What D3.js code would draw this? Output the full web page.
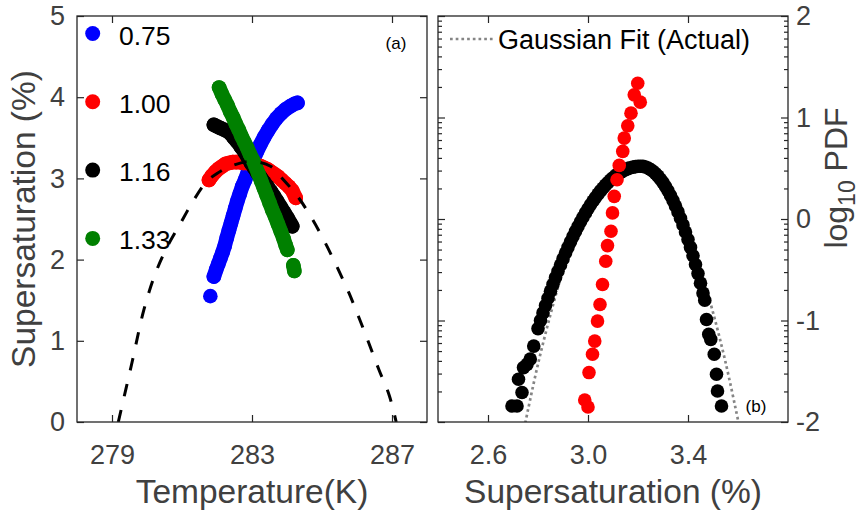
<!DOCTYPE html>
<html lang="en">
<head>
  <meta charset="UTF-8">
  <title>Supersaturation</title>
  <script src="https://d3js.org/d3.v7.min.js"></script>
  <style>
    body { margin: 0; background: #fff; }
    text { font-family: "Liberation Sans", Arial, sans-serif; }
    .axis .domain { stroke: none; }
    .axis line { stroke: #262626; stroke-width: 1.2; }
    .axis text { fill: #404040; font-size: 27px; font-family: "Liberation Sans", Arial, sans-serif; }
  </style>
</head>
<body>
<svg id="chart" width="864" height="518"></svg>
<script>
  // ---- data ----
  const legendLabels = ["0.75", "1.00", "1.16", "1.33"];
  const seriesColors = ["blue", "red", "black", "green"];

  // panel (a): [temperature K, supersaturation %]
  const s075 = [[281.81,1.55],[281.91,1.79],[281.98,1.88],[282.04,1.95],[282.10,2.02],[282.16,2.09],[282.22,2.17],
    [282.28,2.27],[282.34,2.36],[282.40,2.45],[282.46,2.54],[282.52,2.63],[282.58,2.72],[282.65,2.81],[282.72,2.90],
    [282.80,2.98],[282.88,3.07],[282.96,3.15],[283.05,3.24],[283.14,3.33],[283.24,3.42],[283.35,3.51],[283.46,3.59],
    [283.58,3.67],[283.70,3.74],[283.83,3.80],[283.96,3.85],[284.10,3.89],[284.22,3.92],[284.30,3.93]];
  const s100 = [[281.77,2.98],[281.85,3.03],[281.95,3.08],[282.05,3.12],[282.15,3.15],[282.25,3.18],[282.35,3.19],
    [282.45,3.20],[282.55,3.20],[282.65,3.20],[282.75,3.19],[282.85,3.19],[282.95,3.18],[283.05,3.17],[283.15,3.16],
    [283.25,3.15],[283.35,3.13],[283.45,3.11],[283.55,3.08],[283.65,3.05],[283.75,3.02],[283.85,2.98],[283.95,2.94],
    [284.05,2.90],[284.15,2.85],[284.25,2.76]];
  const s116 = [[281.91,3.66],[282.00,3.64],[282.10,3.62],[282.20,3.60],[282.30,3.58],[282.39,3.55],[282.48,3.50],
    [282.58,3.45],[282.68,3.39],[282.78,3.33],[282.88,3.26],[282.97,3.19],[283.06,3.13],[283.15,3.07],[283.25,3.01],
    [283.35,2.95],[283.44,2.90],[283.54,2.84],[283.63,2.78],[283.72,2.72],[283.82,2.65],[283.92,2.58],[284.02,2.51],
    [284.10,2.45],[284.15,2.41]];
  const s133 = [[282.06,4.12],[282.14,4.04],[282.22,3.97],[282.30,3.90],[282.38,3.82],[282.46,3.75],[282.54,3.67],
    [282.62,3.60],[282.70,3.52],[282.78,3.45],[282.86,3.38],[282.94,3.30],[283.02,3.23],[283.10,3.15],[283.18,3.06],
    [283.26,2.97],[283.34,2.88],[283.42,2.79],[283.50,2.70],[283.58,2.61],[283.66,2.53],[283.74,2.44],[283.82,2.35],
    [283.90,2.26],[283.96,2.18],[284.01,2.12],[284.18,1.93],[284.21,1.86]];
  const satCurve = [[279.18,0],[279.57,0.73],[279.91,1.38],[280.24,1.83],[280.58,2.16],[280.96,2.45],[281.29,2.70],
    [281.68,2.95],[282.00,3.06],[282.39,3.15],[282.97,3.21],[283.53,3.15],[283.82,3.02],[284.30,2.78],[284.72,2.50],
    [285.10,2.20],[285.44,1.90],[285.77,1.59],[286.06,1.28],[286.34,0.97],[286.63,0.64],[286.92,0.33],[287.12,0]];

  // panel (b): [supersaturation %, log10 PDF]
  const pdfRed = [[2.987,-1.783],[3.000,-1.852],[3.004,-1.513],[3.018,-1.333],[3.027,-1.203],[3.038,-1.006],
    [3.048,-0.842],[3.058,-0.645],[3.071,-0.416],[3.078,-0.262],[3.092,-0.121],[3.098,0.060],[3.105,0.223],
    [3.116,0.387],[3.125,0.528],[3.139,0.666],[3.145,0.797],[3.159,0.918],[3.172,1.043],[3.209,1.151],
    [3.185,1.223],[3.199,1.338]];
  const pdfBlack = [[2.696,-1.842],[2.716,-1.842],[2.736,-1.710],[2.722,-1.579],[2.742,-1.464],[2.756,-1.432],
    [2.769,-1.380],[2.783,-1.252],[2.800,-1.080],[2.810,-1.000],[2.820,-0.925],[2.830,-0.852],[2.840,-0.781],
    [2.850,-0.711],[2.860,-0.644],[2.870,-0.578],[2.880,-0.515],[2.890,-0.453],[2.900,-0.393],[2.910,-0.335],
    [2.920,-0.279],[2.930,-0.225],[2.940,-0.173],[2.950,-0.122],[2.960,-0.074],[2.970,-0.027],[2.980,0.017],
    [2.990,0.060],[3.000,0.101],[3.010,0.140],[3.020,0.177],[3.030,0.212],[3.040,0.245],[3.050,0.277],
    [3.060,0.306],[3.070,0.334],[3.080,0.359],[3.090,0.383],[3.100,0.405],[3.110,0.425],[3.120,0.443],
    [3.130,0.459],[3.140,0.473],[3.150,0.486],[3.160,0.496],[3.170,0.505],[3.180,0.511],[3.190,0.516],
    [3.200,0.519],[3.210,0.520],[3.220,0.518],[3.230,0.512],[3.240,0.502],[3.250,0.488],[3.260,0.470],
    [3.270,0.448],[3.280,0.422],[3.290,0.392],[3.300,0.358],[3.310,0.320],[3.320,0.278],[3.330,0.232],
    [3.340,0.182],[3.350,0.128],[3.360,0.070],[3.370,0.008],[3.380,-0.058],[3.390,-0.128],[3.400,-0.202],
    [3.410,-0.280],[3.420,-0.362],[3.430,-0.448],[3.440,-0.538],[3.450,-0.632],[3.460,-0.730],[3.467,-0.800],
    [3.474,-0.990],[3.483,-1.137],[3.491,-1.186],[3.505,-1.333],[3.514,-1.530],[3.518,-1.694],[3.534,-1.842]];
  const gaussFit = [[2.74,-2.12],[2.76,-1.88],[2.80,-1.43],[2.85,-0.94],[2.90,-0.51],[2.95,-0.16],[3.00,0.12],
    [3.05,0.34],[3.10,0.48],[3.15,0.55],[3.20,0.55],[3.25,0.48],[3.30,0.34],[3.35,0.13],[3.40,-0.15],
    [3.45,-0.50],[3.50,-0.92],[3.55,-1.41],[3.60,-1.98],[3.61,-2.10]];

  const tempTicks = [279, 283, 287];
  const satTicks = [0, 1, 2, 3, 4, 5];
  const ssTicks = [2.6, 3.0, 3.4];
  const logTicks = [-2, -1, 0, 1, 2];

  // ---- layout ----
  const svg = d3.select("svg#chart");
  const plotTop = 16, plotBottom = 422;
  const panelA = {left: 77, right: 427};
  const panelB = {left: 438, right: 788};
  const axisColor = "#262626";
  const labelColor = "#404040";
  const dotR = 7.3;

  const xA = d3.scaleLinear().domain([278, 288]).range([panelA.left, panelA.right]);
  const yA = d3.scaleLinear().domain([0, 5]).range([plotBottom, plotTop]);
  const xB = d3.scaleLinear().domain([2.4, 3.8]).range([panelB.left, panelB.right]);
  const yB = d3.scaleLinear().domain([-2, 2]).range([plotBottom, plotTop]);
  const pdfScale = d3.scaleLog().domain([1e-2, 1e2]).range([plotBottom, plotTop]);

  const defs = svg.append("defs");
  [["clipA", panelA], ["clipB", panelB]].forEach(([id, p]) => {
    defs.append("clipPath").attr("id", id)
        .append("rect")
        .attr("x", p.left).attr("y", plotTop)
        .attr("width", p.right - p.left).attr("height", plotBottom - plotTop);
  });

  // ---- panel (a) ----
  const gA = svg.append("g").attr("clip-path", "url(#clipA)");
  [s075, s100, s116, s133].forEach((series, i) => {
    // overlapping markers merge into a band: join neighbours that touch
    let pts = series.map(d => [xA(d[0]), yA(d[1])]);
    let runs = [[pts[0]]];
    for (let k = 1; k < pts.length; k++) {
      let dist = Math.hypot(pts[k][0] - pts[k - 1][0], pts[k][1] - pts[k - 1][1]);
      if (dist < 12) runs[runs.length - 1].push(pts[k]);
      else runs.push([pts[k]]);
    }
    gA.append("g").selectAll("path")
      .data(runs.filter(r => r.length > 1))
      .join("path")
      .attr("d", d3.line())
      .style("fill", "none")
      .style("stroke", seriesColors[i])
      .style("stroke-width", dotR * 2)
      .style("stroke-linecap", "round")
      .style("stroke-linejoin", "round");
    gA.append("g").selectAll("circle")
      .data(series)
      .join("circle")
      .attr("cx", d => xA(d[0]))
      .attr("cy", d => yA(d[1]))
      .attr("r", dotR)
      .style("fill", seriesColors[i]);
  });

  gA.append("path")
    .datum(satCurve)
    .attr("d", d3.line().x(d => xA(d[0])).y(d => yA(d[1])).curve(d3.curveCatmullRom))
    .style("fill", "none")
    .style("stroke", "black")
    .style("stroke-width", 3)
    .style("stroke-dasharray", "12.5,14");

  // axes (a)
  svg.append("g").attr("class", "axis")
     .attr("transform", `translate(0,${plotBottom})`)
     .call(d3.axisBottom(xA).tickValues(tempTicks).tickSize(-7).tickSizeOuter(0).tickPadding(23).tickFormat(d => String(d)));
  svg.append("g").attr("class", "axis")
     .attr("transform", `translate(0,${plotTop})`)
     .call(d3.axisTop(xA).tickValues(tempTicks).tickSize(-7).tickSizeOuter(0).tickFormat(""));
  svg.append("g").attr("class", "axis")
     .attr("transform", `translate(${panelA.left},0)`)
     .call(d3.axisLeft(yA).tickValues(satTicks).tickSize(-7).tickSizeOuter(0).tickPadding(12).tickFormat(d => String(d)));
  svg.append("g").attr("class", "axis")
     .attr("transform", `translate(${panelA.right},0)`)
     .call(d3.axisRight(yA).tickValues(satTicks).tickSize(-7).tickSizeOuter(0).tickFormat(""));

  // legend (a)
  legendLabels.forEach((lab, i) => {
    let ly = 33.5 + i * 68.3;
    svg.append("circle")
       .attr("cx", 92.7).attr("cy", ly).attr("r", 7.5)
       .style("fill", seriesColors[i]);
    svg.append("text")
       .attr("x", 119).attr("y", ly + 11)
       .style("font-size", "26.5px")
       .style("fill", "black")
       .text(lab);
  });

  svg.append("text")
     .attr("x", 396).attr("y", 49)
     .attr("text-anchor", "middle")
     .style("font-size", "17px")
     .text("(a)");

  // ---- panel (b) ----
  const gB = svg.append("g").attr("clip-path", "url(#clipB)");
  gB.append("path")
    .datum(gaussFit)
    .attr("d", d3.line().x(d => xB(d[0])).y(d => yB(d[1])).curve(d3.curveCatmullRom))
    .style("fill", "none")
    .style("stroke", "#858585")
    .style("stroke-width", 2.7)
    .style("stroke-dasharray", "2.7,3");

  gB.append("g").selectAll("circle")
    .data(pdfBlack)
    .join("circle")
    .attr("cx", d => xB(d[0]))
    .attr("cy", d => yB(d[1]))
    .attr("r", 6.8)
    .style("fill", "black");

  gB.append("g").selectAll("circle")
    .data(pdfRed)
    .join("circle")
    .attr("cx", d => xB(d[0]))
    .attr("cy", d => yB(d[1]))
    .attr("r", 6.8)
    .style("fill", "red");

  // axes (b): log-PDF minor ticks on both sides, log10 labels on the right
  let allLog = pdfScale.ticks();
  let majorLog = allLog.filter(v => Math.abs(Math.log10(v) - Math.round(Math.log10(v))) < 1e-9);
  let minorLog = allLog.filter(v => !majorLog.includes(v));

  svg.append("g").attr("class", "axis")
     .attr("transform", `translate(0,${plotBottom})`)
     .call(d3.axisBottom(xB).tickValues(ssTicks).tickSize(-7).tickSizeOuter(0).tickPadding(23).tickFormat(d3.format(".1f")));
  svg.append("g").attr("class", "axis")
     .attr("transform", `translate(0,${plotTop})`)
     .call(d3.axisTop(xB).tickValues(ssTicks).tickSize(-7).tickSizeOuter(0).tickFormat(""));
  [[d3.axisLeft, panelB.left], [d3.axisRight, panelB.right]].forEach(([ax, xpos]) => {
    svg.append("g").attr("class", "axis")
       .attr("transform", `translate(${xpos},0)`)
       .call(ax(pdfScale).tickValues(minorLog).tickSize(-4).tickSizeOuter(0).tickFormat(""));
    svg.append("g").attr("class", "axis")
       .attr("transform", `translate(${xpos},0)`)
       .call(ax(pdfScale).tickValues(majorLog).tickSize(-7).tickSizeOuter(0).tickFormat(""));
  });
  svg.append("g").attr("class", "axis")
     .attr("transform", `translate(${panelB.right},0)`)
     .call(d3.axisRight(yB).tickValues(logTicks).tickSize(0).tickSizeOuter(0).tickPadding(8).tickFormat(d => String(d)));

  // legend (b)
  svg.append("line")
     .attr("x1", 450).attr("x2", 494).attr("y1", 39).attr("y2", 39)
     .style("stroke", "#858585")
     .style("stroke-width", 2.7)
     .style("stroke-dasharray", "2.7,3");
  svg.append("text")
     .attr("x", 498).attr("y", 49)
     .style("font-size", "27px")
     .style("fill", "black")
     .text("Gaussian Fit (Actual)");

  svg.append("text")
     .attr("x", 756).attr("y", 412)
     .attr("text-anchor", "middle")
     .style("font-size", "17px")
     .text("(b)");

  // frames
  [panelA, panelB].forEach(p => {
    svg.append("rect")
       .attr("x", p.left).attr("y", plotTop)
       .attr("width", p.right - p.left).attr("height", plotBottom - plotTop)
       .style("fill", "none")
       .style("stroke", axisColor)
       .style("stroke-width", 1.3);
  });

  // axis titles
  svg.append("text")
     .attr("x", (panelA.left + panelA.right) / 2).attr("y", 503)
     .attr("text-anchor", "middle")
     .style("font-size", "33.5px").style("fill", labelColor)
     .text("Temperature(K)");
  svg.append("text")
     .attr("x", (panelB.left + panelB.right) / 2).attr("y", 503)
     .attr("text-anchor", "middle")
     .style("font-size", "33.5px").style("fill", labelColor)
     .text("Supersaturation (%)");
  svg.append("text")
     .attr("transform", `translate(35,${(plotTop + plotBottom) / 2}) rotate(-90)`)
     .attr("text-anchor", "middle")
     .style("font-size", "33.5px").style("fill", labelColor)
     .text("Supersaturation (%)");

  let rLab = svg.append("text")
     .attr("transform", "translate(847,178) rotate(-90)")
     .attr("text-anchor", "middle")
     .style("font-size", "32px").style("fill", labelColor);
  rLab.append("tspan").text("log");
  rLab.append("tspan").attr("dy", 8).style("font-size", "23px").text("10");
  rLab.append("tspan").attr("dy", -8).text(" PDF");
</script>
</body>
</html>
